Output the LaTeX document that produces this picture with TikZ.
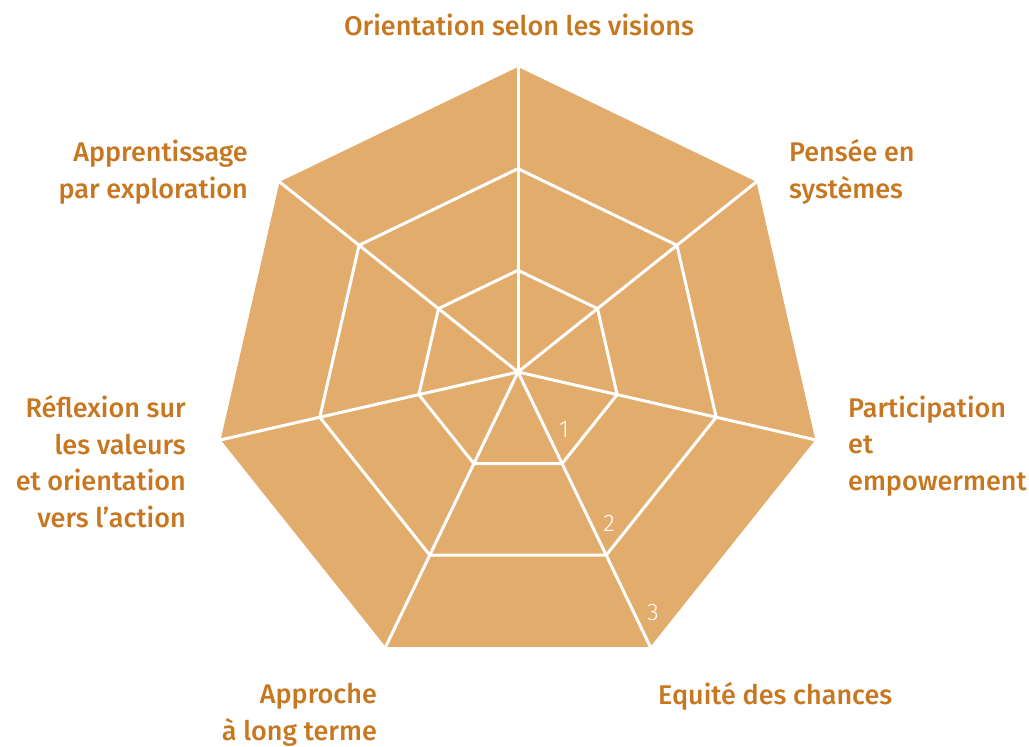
\documentclass[tikz,border=0pt]{standalone}
\usepackage{fontspec}
\setmainfont{Fira Sans}[UprightFont={* Medium}]
\newfontfamily\lvlfont{Fira Sans}[UprightFont={* Light}]
\definecolor{fillc}{RGB}{226,172,108}
\definecolor{txtc}{RGB}{199,119,32}
\begin{document}
\begin{tikzpicture}[x=1pt,y=-1pt,
  lab/.style={text=txtc, font=\fontsize{27}{36.5}\selectfont, inner sep=0pt},
  lvl/.style={text=white, font=\lvlfont\fontsize{24}{24}\selectfont, inner sep=0pt},
  web/.style={draw=white, line width=3pt, line join=miter}]
\useasboundingbox (0,0) rectangle (1029,747);
\coordinate (c) at (518,372);
\foreach \i in {0,...,6}{
  \coordinate (o\i) at ({518+305*cos(90-\i*360/7)},{372-305*sin(90-\i*360/7)});
  \coordinate (m\i) at ({518+203.3*cos(90-\i*360/7)},{372-203.3*sin(90-\i*360/7)});
  \coordinate (n\i) at ({518+101.7*cos(90-\i*360/7)},{372-101.7*sin(90-\i*360/7)});
}
\fill[fillc] (o0)--(o1)--(o2)--(o3)--(o4)--(o5)--(o6)--cycle;
\draw[web] (n0)--(n1)--(n2)--(n3)--(n4)--(n5)--(n6)--cycle;
\draw[web] (m0)--(m1)--(m2)--(m3)--(m4)--(m5)--(m6)--cycle;
\foreach \i in {0,...,6}{ \draw[web, line cap=butt] (c)--(o\i); }
% level numbers
\node[lvl] (l1) at (564,430) {1};
\node[lvl] (l2) at (609,523) {2};
\node[lvl] (l3) at (653,613) {3};
% labels (base = baseline of last line)
\node[lab, anchor=base] (t0) at (519,35) {Orientation selon les visions};
\node[lab, anchor=base west, align=left] (t1) at (789,198) {Pensée en\\systèmes};
\node[lab, anchor=base west, align=left] (t2) at (848,490) {Participation\\et\\empowerment};
\node[lab, anchor=base west] (t3) at (658,704) {Equité des chances};
\node[lab, anchor=base east, align=right] (t4) at (377,740) {Approche\\à long terme};
\node[lab, anchor=base east, align=right] (t5) at (186,527) {Réflexion sur\\les valeurs\\et orientation\\vers l’action};
\node[lab, anchor=base east, align=right] (t6) at (248,198) {Apprentissage\\par exploration};
\end{tikzpicture}
\end{document}
